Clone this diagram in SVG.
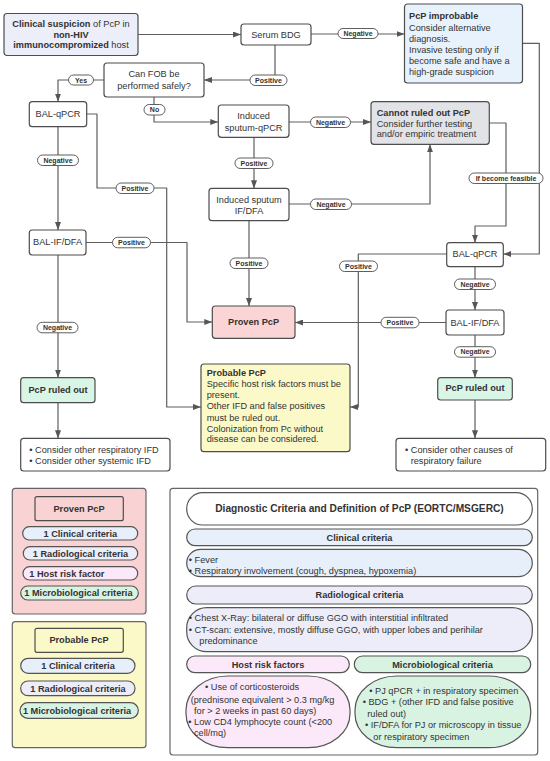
<svg xmlns="http://www.w3.org/2000/svg" width="550" height="761" viewBox="0 0 550 761">
<defs>
<style>
.n{fill:#fff;stroke:#4d4d4d;stroke-width:1.2}
.t{font-family:"Liberation Sans",Arial,sans-serif;font-size:9.2px;fill:#333}
.m{text-anchor:middle}
.b{font-weight:bold}
.c{stroke:#5e5e5e;stroke-width:1.2;fill:none;stroke-linejoin:round}
.a{marker-end:url(#ah)}
.p{fill:#fff;stroke:#5e5e5e;stroke-width:1}
.pt{font-family:"Liberation Sans",Arial,sans-serif;font-size:7px;font-weight:bold;fill:#333;text-anchor:middle}
.blue{fill:#e7effb}
.lav{fill:#ecedf8}
.pink{fill:#fbe9f9}
.green{fill:#d9f3e3}
.lp{stroke:#555;stroke-width:1.2}
</style>
<marker id="ah" markerWidth="8" markerHeight="6" refX="8" refY="3" orient="auto" markerUnits="userSpaceOnUse"><path d="M0,0 L8,3 L0,6 z" fill="#555"/></marker>
</defs>
<rect width="550" height="761" fill="#fff"/>

<g id="connectors">
<path class="c a" d="M137.7,34.5 H241"/>
<path class="c a" d="M311,34 H404.5"/>
<path class="c a" d="M275,45 V80 H204"/>
<path class="c a" d="M104,80 H58 V101.7"/>
<path class="c a" d="M154,97 V122 H218.3"/>
<path class="c a" d="M289,122 H371"/>
<path class="c a" d="M254,137.3 V188.3"/>
<path class="c a" d="M289,204 H430 V144.3"/>
<path class="c a" d="M249,220.7 V306"/>
<path class="c a" d="M58,126.7 V230"/>
<path class="c a" d="M86.7,114 H97 V188 H166.7 V407 H201"/>
<path class="c a" d="M86,242.5 H187 V322 H212.3"/>
<path class="c a" d="M58,255 V377.7"/>
<path class="c a" d="M58,402.7 V438.3"/>
<path class="c a" d="M522.5,43.3 H539.3 V254 H503.3"/>
<path class="c a" d="M489.3,123 H506 V226 H475 V242.7"/>
<path class="c a" d="M446.7,254 H358.3 V407 H350"/>
<path class="c a" d="M475,266.7 V310"/>
<path class="c a" d="M446,322.5 H295"/>
<path class="c a" d="M475,335 V377.7"/>
<path class="c a" d="M475,400 V438.3"/>

<rect class="p" x="338" y="28.5" width="40" height="10" rx="5"/><text class="pt" x="358" y="36">Negative</text>
<rect class="p" x="250" y="75" width="37" height="10.5" rx="5.2"/><text class="pt" x="268.5" y="82.7">Positive</text>
<rect class="p" x="68.5" y="75" width="25" height="10" rx="5"/><text class="pt" x="81" y="82.5">Yes</text>
<rect class="p" x="144" y="104.5" width="21" height="10.5" rx="5.2"/><text class="pt" x="154.5" y="112.2">No</text>
<rect class="p" x="310.5" y="117" width="40" height="10.5" rx="5.2"/><text class="pt" x="330.5" y="124.7">Negative</text>
<rect class="p" x="235" y="158" width="38" height="10.5" rx="5.2"/><text class="pt" x="254" y="165.7">Positive</text>
<rect class="p" x="310.5" y="199" width="41" height="10.5" rx="5.2"/><text class="pt" x="331" y="206.7">Negative</text>
<rect class="p" x="230" y="258" width="38" height="10.5" rx="5.2"/><text class="pt" x="249" y="265.7">Positive</text>
<rect class="p" x="37.5" y="155" width="41" height="10.5" rx="5.2"/><text class="pt" x="58" y="162.7">Negative</text>
<rect class="p" x="116" y="183" width="38" height="10.5" rx="5.2"/><text class="pt" x="135" y="190.7">Positive</text>
<rect class="p" x="112.5" y="237.3" width="38" height="10.5" rx="5.2"/><text class="pt" x="131.5" y="245">Positive</text>
<rect class="p" x="37" y="322.3" width="41" height="10.5" rx="5.2"/><text class="pt" x="57.5" y="330">Negative</text>
<rect class="p" x="469" y="173" width="74" height="10.5" rx="5.2"/><text class="pt" x="506" y="180.7">If become feasible</text>
<rect class="p" x="339.5" y="261" width="38" height="10.5" rx="5.2"/><text class="pt" x="358.5" y="268.7">Positive</text>
<rect class="p" x="454.5" y="279" width="41" height="10.5" rx="5.2"/><text class="pt" x="475" y="286.7">Negative</text>
<rect class="p" x="381" y="317.3" width="38" height="10.5" rx="5.2"/><text class="pt" x="400" y="325">Positive</text>
<rect class="p" x="454.5" y="346.7" width="41" height="10.5" rx="5.2"/><text class="pt" x="475" y="354.4">Negative</text>
</g>

<g id="clinical-suspicion">
<rect class="n" x="4" y="13.5" width="134" height="42" rx="3" fill="#eceefa" style="fill:#eceefa"/>
<text class="t m" x="71" y="27.3"><tspan class="b">Clinical suspicion</tspan> of PcP in</text>
<text class="t m b" x="71" y="37.6">non-HIV</text>
<text class="t m" x="71" y="48.3"><tspan class="b">immunocompromized</tspan> host</text>
</g>
<g id="serum-bdg">
<rect class="n" x="241" y="24" width="70" height="21" rx="3"/>
<text class="t m" x="276" y="37.7">Serum BDG</text>
</g>
<g id="pcp-improbable">
<rect class="n" x="404.5" y="4" width="118" height="79" rx="3" style="fill:#e8f2fc"/>
<text class="t b" x="409" y="18.9">PcP improbable</text>
<text class="t" x="409" y="30.5">Consider alternative</text>
<text class="t" x="409" y="41.5">diagnosis.</text>
<text class="t" x="409" y="52.5">Invasive testing only if</text>
<text class="t" x="409" y="63.9">become safe and have a</text>
<text class="t" x="409" y="74.5">high-grade suspicion</text>
</g>
<g id="can-fob">
<rect class="n" x="104" y="63" width="100" height="34" rx="3"/>
<text class="t m" x="154" y="77.2">Can FOB be</text>
<text class="t m" x="154" y="89.2">performed safely?</text>
</g>
<g id="bal-qpcr-1">
<rect class="n" x="29.3" y="101.7" width="57.4" height="25" rx="3"/>
<text class="t m" x="58" y="117.2">BAL-qPCR</text>
</g>
<g id="induced-sputum-qpcr">
<rect class="n" x="218.3" y="105" width="70.7" height="32.3" rx="3"/>
<text class="t m" x="253.6" y="119.2">Induced</text>
<text class="t m" x="253.6" y="130.5">sputum-qPCR</text>
</g>
<g id="cannot-ruled-out">
<rect class="n" x="371" y="101.7" width="118.3" height="42.6" rx="3" style="fill:#e1e3e7"/>
<text class="t b" x="376.7" y="115.5">Cannot ruled out PcP</text>
<text class="t" x="376.7" y="126.5">Consider further testing</text>
<text class="t" x="376.7" y="137.2">and/or empiric treatment</text>
</g>
<g id="induced-sputum-ifdfa">
<rect class="n" x="209" y="188.3" width="80" height="32.4" rx="3"/>
<text class="t m" x="249" y="202.5">Induced sputum</text>
<text class="t m" x="249" y="213.9">IF/DFA</text>
</g>
<g id="bal-ifdfa-1">
<rect class="n" x="29.3" y="230" width="56.7" height="25" rx="3"/>
<text class="t m" x="57.6" y="245.2">BAL-IF/DFA</text>
</g>
<g id="pcp-ruled-out-1">
<rect class="n" x="20.7" y="377.7" width="74.3" height="25" rx="3" style="fill:#d9f5e6"/>
<text class="t m b" x="58" y="392.5">PcP ruled out</text>
</g>
<g id="consider-ifd">
<rect class="n" x="20.7" y="438.3" width="149.3" height="32.7" rx="3"/>
<text class="t" x="29.3" y="453.2">• Consider other respiratory IFD</text>
<text class="t" x="29.3" y="464">• Consider other systemic IFD</text>
</g>
<g id="proven-pcp">
<rect class="n" x="212.3" y="306" width="82.7" height="32.3" rx="3" style="fill:#fbd5d5"/>
<text class="t m b" x="253.6" y="325">Proven PcP</text>
</g>
<g id="probable-pcp">
<rect class="n" x="201" y="364" width="149" height="87.7" rx="3" style="fill:#fcf9c8"/>
<text class="t b" x="206.7" y="375.9">Probable PcP</text>
<text class="t" x="206.7" y="387.2">Specific host risk factors must be</text>
<text class="t" x="206.7" y="398.2">present.</text>
<text class="t" x="206.7" y="409.2">Other IFD and false positives</text>
<text class="t" x="206.7" y="420.5">must be ruled out.</text>
<text class="t" x="206.7" y="431.5">Colonization from Pc without</text>
<text class="t" x="206.7" y="442.2">disease can be considered.</text>
</g>
<g id="bal-qpcr-2">
<rect class="n" x="446.7" y="242.7" width="56.6" height="24" rx="3"/>
<text class="t m" x="475" y="257.4">BAL-qPCR</text>
</g>
<g id="bal-ifdfa-2">
<rect class="n" x="446" y="310" width="58" height="25" rx="3"/>
<text class="t m" x="475" y="325.5">BAL-IF/DFA</text>
</g>
<g id="pcp-ruled-out-2">
<rect class="n" x="437.7" y="377.7" width="74.6" height="22.3" rx="3" style="fill:#d9f5e6"/>
<text class="t m b" x="475" y="391.2">PcP ruled out</text>
</g>
<g id="consider-causes">
<rect class="n" x="396" y="438.3" width="149.7" height="32.7" rx="3"/>
<text class="t" x="405" y="452.5">• Consider other causes of</text>
<text class="t" x="410.7" y="464">respiratory failure</text>
</g>

<g id="legend-proven">
<rect class="n" x="12.3" y="488.3" width="133.7" height="125.7" rx="3" style="fill:#f9d3d3;stroke:#666"/>
<rect class="n" x="35" y="496.7" width="88.3" height="24" rx="2" style="fill:#f9d3d3"/>
<text class="t m b" x="79" y="512.3">Proven PcP</text>
<rect class="lp blue" x="22.7" y="526.7" width="115" height="13.3" rx="6.6"/>
<text class="t m b" x="80.3" y="537">1 Clinical criteria</text>
<rect class="lp lav" x="23.3" y="546.7" width="114.4" height="13.3" rx="6.6"/>
<text class="t m b" x="80.5" y="556.6">1 Radiological criteria</text>
<rect class="lp pink" x="23" y="566.7" width="114.7" height="13.3" rx="6.6"/>
<text class="t b" x="29.3" y="576.6">1 Host risk factor</text>
<rect class="lp green" x="20.7" y="586" width="117.6" height="14" rx="7"/>
<text class="t m b" x="78.4" y="596.2">1 Microbiological criteria</text>
</g>
<g id="legend-probable">
<rect class="n" x="12.3" y="621.7" width="133.7" height="126" rx="3" style="fill:#fcf9c8;stroke:#666"/>
<rect class="n" x="35" y="628.3" width="88.3" height="24" rx="2" style="fill:#fcf9c8"/>
<text class="t m b" x="79" y="643.4">Probable PcP</text>
<rect class="lp blue" x="20.7" y="658.3" width="114.3" height="15" rx="7.5"/>
<text class="t m b" x="78" y="669.2">1 Clinical criteria</text>
<rect class="lp lav" x="20.7" y="681" width="114.3" height="14.7" rx="7.3"/>
<text class="t m b" x="78" y="691.9">1 Radiological criteria</text>
<rect class="lp green" x="20" y="702.7" width="118.3" height="15.6" rx="7.8"/>
<text class="t m b" x="77" y="713.7">1 Microbiological criteria</text>
</g>

<g id="criteria-panel">
<rect class="n" x="170" y="488.3" width="367.7" height="266.7" rx="3" style="stroke:#666"/>
<rect class="lp" x="186.7" y="492.7" width="345.6" height="32.3" rx="16" fill="#fff"/>
<text class="t m b" x="359.5" y="512.4" style="font-size:10.2px">Diagnostic Criteria and Definition of PcP (EORTC/MSGERC)</text>
<rect class="lp blue" x="186.7" y="529" width="345.6" height="16.7" rx="8.3"/>
<text class="t m b" x="359.5" y="540.5">Clinical criteria</text>
<rect class="lp blue" x="186.7" y="549.3" width="345.6" height="27.4" rx="14"/>
<text class="t" x="188.8" y="563.2">• Fever</text>
<text class="t" x="188.8" y="574">• Respiratory involvement (cough, dyspnea, hypoxemia)</text>
<rect class="lp lav" x="186.7" y="586" width="345.6" height="18" rx="9"/>
<text class="t m b" x="359.5" y="598.3">Radiological criteria</text>
<rect class="lp lav" x="186.7" y="607.7" width="345.6" height="44" rx="20"/>
<text class="t" x="188.8" y="620.9">• Chest X-Ray: bilateral or diffuse GGO with interstitial infiltrated</text>
<text class="t" x="188.8" y="632.9">• CT-scan: extensive, mostly diffuse GGO, with upper lobes and perihilar</text>
<text class="t" x="199.3" y="643.9">predominance</text>
<rect class="lp pink" x="186.7" y="656" width="162.6" height="16.7" rx="8.3"/>
<text class="t m b" x="268" y="667.5">Host risk factors</text>
<rect class="lp green" x="354.3" y="656" width="176.4" height="16.7" rx="8.3"/>
<text class="t m b" x="442.5" y="667.5">Microbiological criteria</text>
<rect class="lp pink" x="186" y="676" width="164" height="71.7" rx="42" ry="34"/>
<text class="t" x="205" y="689.9">• Use of corticosteroids</text>
<text class="t" x="190.7" y="703.2">(prednisone equivalent &gt; 0.3 mg/kg</text>
<text class="t" x="194" y="713.5">for &gt; 2 weeks in past 60 days)</text>
<text class="t" x="188.3" y="724.9">• Low CD4 lymphocyte count (&lt;200</text>
<text class="t" x="194" y="736">cell/mq)</text>
<rect class="lp green" x="355" y="676" width="175.7" height="71.7" rx="42" ry="34"/>
<text class="t" x="369.3" y="694.2">• PJ qPCR + in respiratory specimen</text>
<text class="t" x="362.7" y="704.9">• BDG + (other IFD and false positive</text>
<text class="t" x="367.3" y="716.5">ruled out)</text>
<text class="t" x="365" y="728.2">• IF/DFA for PJ or microscopy in tissue</text>
<text class="t" x="373.3" y="739.9">or respiratory specimen</text>
</g>
</svg>
